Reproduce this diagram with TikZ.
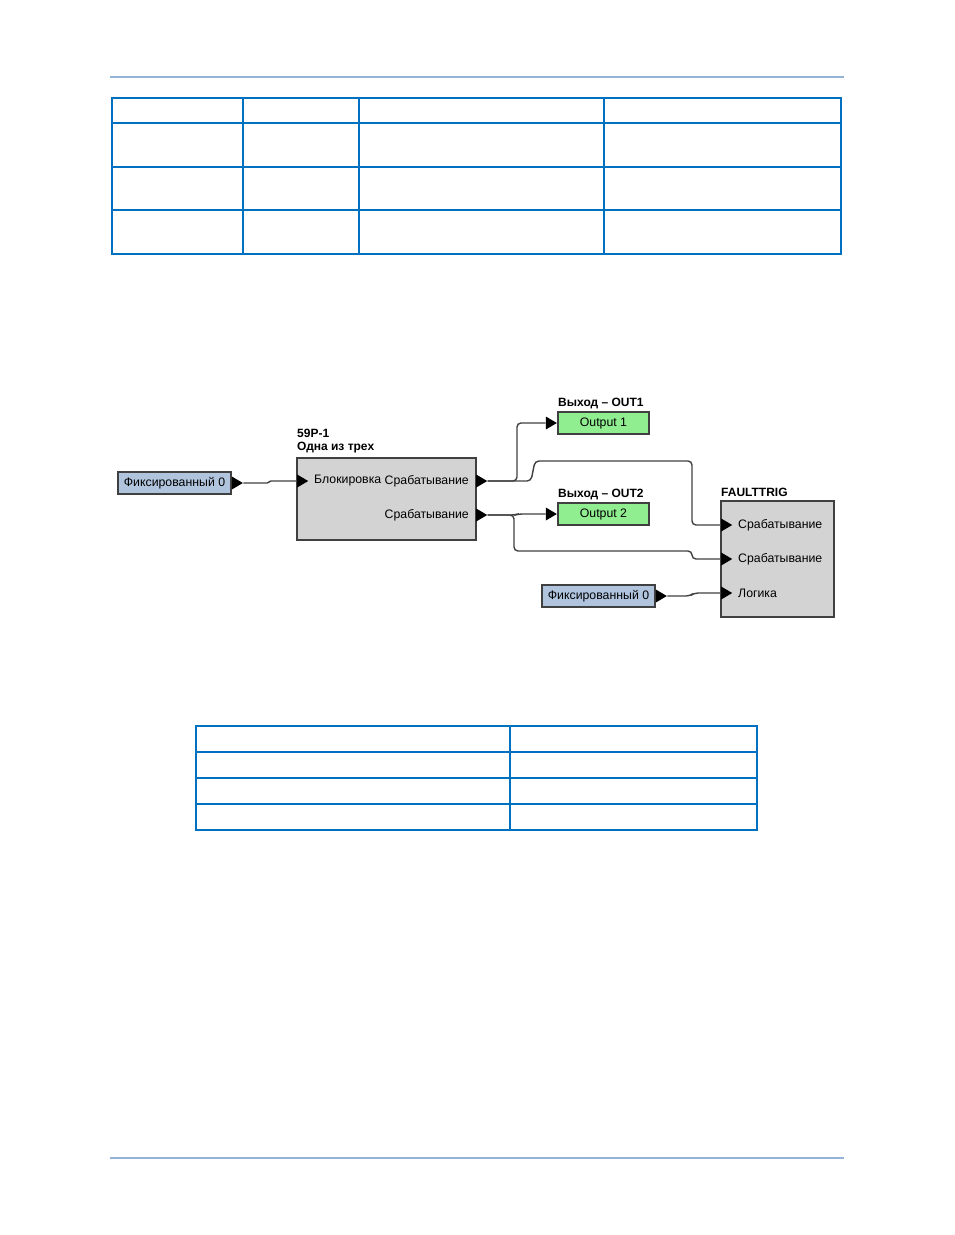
\documentclass[tikz,border=0pt]{standalone}
\usepackage{fontspec}
\setmainfont{Liberation Sans}
\usetikzlibrary{shapes.geometric}
\definecolor{rulecol}{HTML}{95B3D7}
\definecolor{tabcol}{HTML}{0070C0}
\definecolor{fixfill}{HTML}{B0C4DE}
\definecolor{outfill}{HTML}{90EE90}
\definecolor{blkfill}{HTML}{D3D3D3}
\definecolor{wirecol}{HTML}{404040}
\begin{document}
\begin{tikzpicture}[x=1pt,y=-1pt,every node/.style={font=\fontsize{12.3}{14}\selectfont,inner sep=0pt},
  fixbox/.style={rectangle,draw=wirecol,line width=1.3pt,fill=fixfill,minimum width=113pt,minimum height=22pt},
  outbox/.style={rectangle,draw=wirecol,line width=1.3pt,fill=outfill,minimum width=91pt,minimum height=22pt},
  blk/.style={rectangle,draw=wirecol,line width=1.3pt,fill=blkfill},
  port/.style={isosceles triangle,isosceles triangle stretches,fill=black,minimum width=13pt,minimum height=11pt,inner sep=0pt},
  title/.style={anchor=west,font=\fontsize{12}{14}\selectfont\bfseries},
  wire/.style={draw=wirecol,line width=1.4pt,rounded corners=4pt},
  tab/.style={draw=tabcol,line width=1.3pt}]
\useasboundingbox (0,0) rectangle (954,1235);
% page rules
\draw[rulecol,line width=2pt] (110,77) -- (844,77);
\draw[rulecol,line width=2pt] (110,1158) -- (844,1158);
% upper table
\draw[tab] (112,98) rectangle (841,254);
\foreach \y in {123,167,210} \draw[tab] (112,\y) -- (841,\y);
\foreach \x in {243,359,604} \draw[tab] (\x,98) -- (\x,254);
% lower table
\draw[tab] (196,726) rectangle (757,830);
\foreach \y in {752,778,804} \draw[tab] (196,\y) -- (757,\y);
\draw[tab] (510,726) -- (510,830);
% blocks
\node[fixbox] (fix1) at (174.5,483) {Фиксированный 0};
\node[blk,minimum width=179pt,minimum height=82pt] (p59) at (386.5,499) {};
\node[title] (p59t1) at (297,433) {59P-1};
\node[title] (p59t2) at (297,448) {Одна из трех};
\node[outbox] (out1) at (603.5,423) {Output 1};
\node[title] (out1t) at (558,403) {Выход – OUT1};
\node[outbox] (out2) at (603.5,514) {Output 2};
\node[title] (out2t) at (558,494) {Выход – OUT2};
\node[blk,minimum width=113pt,minimum height=116pt] (ft) at (777.5,559) {};
\node[title] (ftt) at (721,492) {FAULTTRIG};
\node[fixbox] (fix2) at (598.5,596) {Фиксированный 0};
% ports
\node[port,anchor=west] (fix1o) at (fix1.east) {};
\node[port,anchor=west] (p59i) at (297,481) {};
\node[port,anchor=west] (p59o1) at (476,481) {};
\node[port,anchor=west] (p59o2) at (476,515) {};
\node[port,anchor=east] (out1i) at (out1.west) {};
\node[port,anchor=east] (out2i) at (out2.west) {};
\node[port,anchor=west] (fti1) at (721,525) {};
\node[port,anchor=west] (fti2) at (721,559) {};
\node[port,anchor=west] (fti3) at (721,593) {};
\node[port,anchor=west] (fix2o) at (fix2.east) {};
% port labels
\node[anchor=west] (p59l1) at (314,481) {Блокировка};
\node[anchor=east] (p59l2) at (469,481) {Срабатывание};
\node[anchor=east] (p59l3) at (469,515) {Срабатывание};
\node[anchor=west] (ftl1) at (738,525) {Срабатывание};
\node[anchor=west] (ftl2) at (738,559) {Срабатывание};
\node[anchor=west] (ftl3) at (738,593) {Логика};
% wires
\draw[wire,rounded corners=1pt] (fix1o.apex) -- (268,483) -- (270,481) -- (p59i.west);
\draw[wire] (p59o1.apex) -- (517,481) -- (517,423) -- (out1i.west);
\draw[wire] (p59o1.apex) -- (531,481) -- (535,461) -- (692,461) |- (fti1.west);
\draw[wire] (p59o2.apex) -- (515,515) -- (518,514) -- (out2i.west);
\draw[wire] (p59o2.apex) -- (514,515) |- (692,551) |- (fti2.west);
\draw[wire] (fix2o.apex) -- (690,596) -- (694,593) -- (fti3.west);
\end{tikzpicture}
\end{document}
